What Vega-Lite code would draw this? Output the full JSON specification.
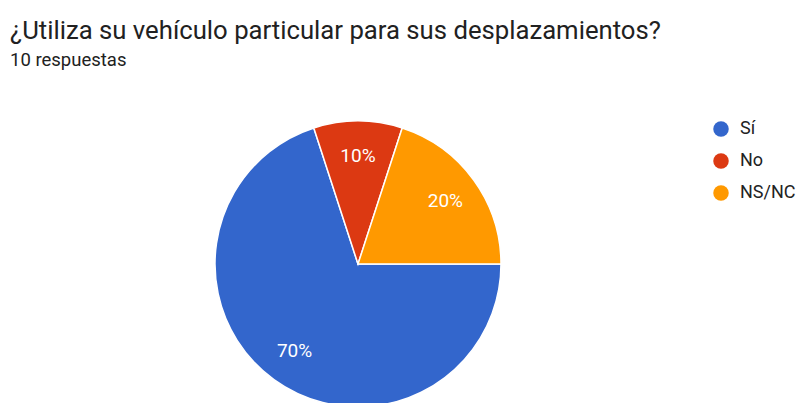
{
  "$schema": "https://vega.github.io/schema/vega-lite/v6.json",
  "autosize": "none",
  "padding": {"left": 0, "top": 0, "right": 87, "bottom": 0},
  "width": 716,
  "height": 528,
  "background": "white",
  "title": {
    "text": "¿Utiliza su vehículo particular para sus desplazamientos?",
    "subtitle": "10 respuestas",
    "anchor": "start",
    "frame": "group",
    "orient": "top",
    "offset": 0,
    "dx": 10,
    "dy": 70,
    "font": "Roboto",
    "fontSize": 25.7,
    "fontWeight": "normal",
    "color": "#212121",
    "subtitleFont": "Roboto",
    "subtitleFontSize": 18.5,
    "subtitleColor": "#212121",
    "subtitlePadding": 6
  },
  "data": {
    "values": [
      {"respuesta": "Sí", "cuenta": 7, "pct": "70%", "orden": 1},
      {"respuesta": "No", "cuenta": 1, "pct": "10%", "orden": 2},
      {"respuesta": "NS/NC", "cuenta": 2, "pct": "20%", "orden": 3}
    ]
  },
  "encoding": {
    "theta": {"field": "cuenta", "type": "quantitative", "stack": true, "scale": {"range": [1.5708, 7.854]}},
    "order": {"field": "orden", "type": "quantitative"}
  },
  "layer": [
    {
      "mark": {"type": "arc", "radius": 143, "stroke": "white", "strokeWidth": 1.5},
      "encoding": {
        "color": {
          "field": "respuesta",
          "type": "nominal",
          "sort": ["Sí", "No", "NS/NC"],
          "scale": {"domain": ["Sí", "No", "NS/NC"], "range": ["#3366cc", "#dc3912", "#ff9900"]},
          "legend": {
            "title": null,
            "orient": "none",
            "legendX": 712,
            "legendY": 120,
            "symbolType": "circle",
            "symbolSize": 240,
            "symbolStrokeWidth": 0,
            "labelFont": "Roboto",
            "labelFontSize": 18,
            "labelColor": "#222222",
            "labelOffset": 10,
            "rowPadding": 14
          }
        }
      }
    },
    {
      "mark": {"type": "text", "radius": 108, "font": "Roboto", "fontSize": 19, "color": "white"},
      "encoding": {
        "text": {"field": "pct", "type": "nominal"}
      }
    }
  ]
}
